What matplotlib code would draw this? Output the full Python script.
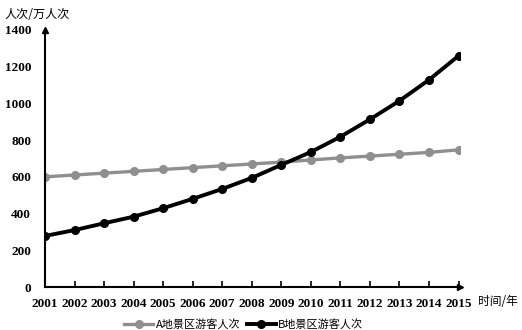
import matplotlib
matplotlib.use('Agg')
import matplotlib.pyplot as plt

years = list(range(2001, 2016))
year_labels = [str(y) for y in years]
visitors_a = [600, 610, 620, 630, 640, 650, 660, 670, 680, 692, 703, 713, 723, 733, 747]
visitors_b = [278, 310, 347, 383, 429, 480, 534, 594, 665, 735, 818, 913, 1014, 1128, 1259]
y_ticks = [0, 200, 400, 600, 800, 1000, 1200, 1400]

label_a = 'A地景区游客人次'
label_b = 'B地景区游客人次'
y_title = '人次/万人次'
x_title = '时间/年'

cjk = ['Noto Sans CJK SC', 'DejaVu Sans']
num_font = {'family': 'Liberation Serif', 'weight': 'bold', 'size': 9.5}

fig = plt.figure(figsize=(5.22, 3.3), dpi=100)
ax = fig.add_axes([0.0862, 0.1303, 0.795, 0.779])

ax.plot(years, visitors_a, color='#8f8f8f', lw=2.4, marker='o', ms=5.5, label=label_a)
ax.plot(years, visitors_b, color='black', lw=2.8, marker='o', ms=5.5, label=label_b)

ax.set_xlim(2001, 2015.05)
ax.set_ylim(0, 1400)
ax.set_xticks(years)
ax.set_xticklabels(year_labels, fontdict=num_font)
ax.set_yticks(y_ticks)
ax.set_yticklabels([str(v) for v in y_ticks], fontdict=num_font)
ax.tick_params(axis='x', direction='in', length=4, width=1.2, pad=8)
ax.tick_params(axis='y', length=0, pad=10)

for s in ['top', 'right']:
    ax.spines[s].set_visible(False)
for s in ['left', 'bottom']:
    ax.spines[s].set_linewidth(1.5)

# arrow heads at the end of each axis
ax.plot(1, 0, '>k', ms=4, transform=ax.transAxes, clip_on=False)
ax.plot(0, 1, '^k', ms=4, transform=ax.transAxes, clip_on=False)

fig.text(0.008, 0.955, y_title, family=cjk, fontsize=8.7, va='center')
fig.text(0.916, 0.085, x_title, family=cjk, fontsize=8.5, va='center')

fig.legend(loc='center', bbox_to_anchor=(0.467, 0.018), ncol=2, frameon=False,
           prop={'family': cjk, 'size': 8}, handlelength=2.6,
           columnspacing=0.6, handletextpad=0.2)

fig.savefig('out.png', dpi=100)
